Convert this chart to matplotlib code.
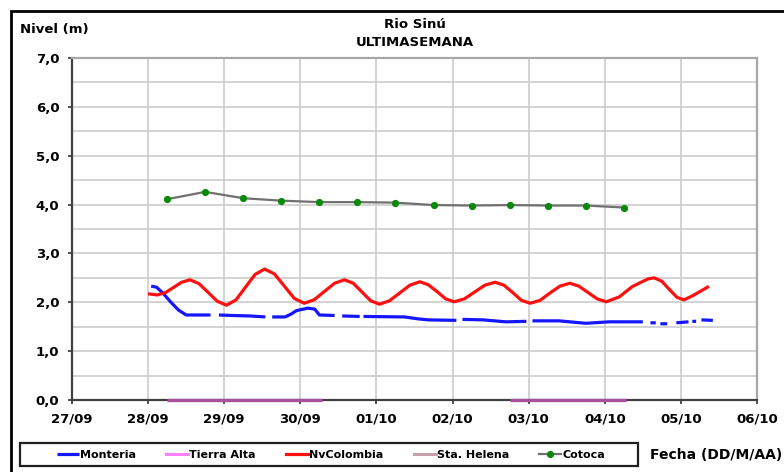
import numpy as np
import matplotlib
matplotlib.use("Agg")
import matplotlib.pyplot as plt
from matplotlib.patches import Rectangle
from matplotlib.lines import Line2D

# x = days since 27/09 00:00
date_labels = ["27/09", "28/09", "29/09", "30/09", "01/10", "02/10", "03/10", "04/10", "05/10", "06/10"]
nivel_ticks = [0, 1, 2, 3, 4, 5, 6, 7]
nivel_labels = ["0,0", "1,0", "2,0", "3,0", "4,0", "5,0", "6,0", "7,0"]

# Monteria (nan = missing reading)
monteria_t = [1.04, 1.11, 1.20, 1.30, 1.40, 1.50, 1.82, 1.87, 1.93, 2.10, 2.34, 2.54, 2.58, 2.63, 2.80,
              2.88, 2.95, 3.10, 3.19, 3.25, 3.45, 3.50, 3.55, 3.78, 3.80, 3.83, 4.37, 4.55, 4.68, 5.05,
              5.09, 5.13, 5.40, 5.70, 5.97, 6.01, 6.05, 6.40, 6.75, 7.06, 7.50, 7.55, 7.60, 7.67, 7.70,
              7.73, 7.82, 7.88, 7.94, 8.10, 8.12, 8.15, 8.20, 8.24, 8.27, 8.42]
monteria_v = [2.33, 2.31, 2.18, 2.00, 1.84, 1.74, 1.74, np.nan, 1.74, 1.73, 1.72, 1.70, np.nan, 1.70, 1.70,
              1.76, 1.83, 1.88, 1.86, 1.74, 1.73, np.nan, 1.72, 1.71, np.nan, 1.71, 1.70, 1.66, 1.64, 1.63,
              np.nan, 1.65, 1.64, 1.60, 1.61, np.nan, 1.62, 1.62, 1.57, 1.60, 1.60, np.nan, 1.58, 1.58, np.nan,
              1.56, 1.56, np.nan, 1.58, 1.60, np.nan, 1.61, 1.61, np.nan, 1.64, 1.63]

# NvColombia
nvcol_t = [1.02, 1.12, 1.23, 1.34, 1.44, 1.55, 1.67, 1.79, 1.91, 2.03, 2.155, 2.28, 2.405, 2.53,
           2.66, 2.79, 2.92, 3.05, 3.18, 3.315, 3.45, 3.58, 3.695, 3.81, 3.925, 4.04, 4.17, 4.305,
           4.44, 4.57, 4.68, 4.795, 4.91, 5.02, 5.155, 5.29, 5.425, 5.56, 5.675, 5.79, 5.905, 6.02,
           6.15, 6.28, 6.41, 6.54, 6.66, 6.78, 6.90, 7.02, 7.19, 7.36, 7.49, 7.57, 7.65, 7.75, 7.85,
           7.95, 8.04, 8.15, 8.25, 8.35]
nvcol_v = [2.17, 2.15, 2.20, 2.31, 2.41, 2.46, 2.38, 2.20, 2.02, 1.94, 2.05, 2.31, 2.57, 2.68,
           2.58, 2.33, 2.08, 1.98, 2.05, 2.22, 2.39, 2.46, 2.39, 2.21, 2.03, 1.96, 2.03, 2.19,
           2.35, 2.42, 2.36, 2.22, 2.07, 2.01, 2.07, 2.21, 2.35, 2.41, 2.35, 2.20, 2.04, 1.98,
           2.04, 2.19, 2.33, 2.39, 2.33, 2.20, 2.07, 2.01, 2.11, 2.32, 2.42, 2.48, 2.50, 2.43, 2.26,
           2.10, 2.05, 2.13, 2.22, 2.31]

# Tierra Alta (readings at 0)
talta_t = [1.25, 3.28, np.nan, 5.75, 7.28]
talta_v = [0.0, 0.0, np.nan, 0.0, 0.0]

# Sta. Helena (no readings)
shelena_t = []
shelena_v = []

# Cotoca
cotoca_t = [1.25, 1.75, 2.25, 2.75, 3.25, 3.75, 4.25, 4.75, 5.25, 5.75, 6.25, 6.75, 7.25]
cotoca_v = [4.11, 4.26, 4.13, 4.08, 4.05, 4.05, 4.04, 3.99, 3.98, 3.99, 3.98, 3.98, 3.94]

fig = plt.figure(figsize=(7.84, 4.72), dpi=100)
ax = fig.add_axes([72 / 784, 1 - 400 / 472, 685 / 784, 342 / 472])

l1, = ax.plot(monteria_t, monteria_v, color="#1515ff", lw=2.3, label="Monteria", zorder=4,
              solid_capstyle="butt")
# zero readings sit on the dark axis line, so they look purple there
ax.plot(talta_t, talta_v, color="#a8509c", lw=2.4, zorder=6, clip_on=False, solid_capstyle="butt")
l2 = Line2D([], [], color="#ff80ff", lw=2.2, label="Tierra Alta")
l3, = ax.plot(nvcol_t, nvcol_v, color="#ff1010", lw=2.3, label="NvColombia", zorder=4)
l4, = ax.plot(shelena_t, shelena_v, color="#c8a0a8", lw=2.2, label="Sta. Helena", zorder=4)
l5, = ax.plot(cotoca_t, cotoca_v, color="#707070", lw=1.6, marker="o", ms=4.2,
              mfc="#0a8a0a", mec="#0a8a0a", label="Cotoca", zorder=4)

ax.set_xlim(0, 9)
ax.set_ylim(0, 7)
ax.set_xticks(range(len(date_labels)))
ax.set_xticklabels(date_labels, fontsize=9.5, fontweight="bold")
ax.set_yticks(nivel_ticks)
ax.set_yticklabels(nivel_labels, fontsize=9.5, fontweight="bold")
ax.set_yticks(np.arange(0.5, 7, 1.0), minor=True)
ax.tick_params(axis="y", which="minor", length=0)
ax.tick_params(axis="both", which="major", direction="out", length=3, width=1.2,
               color="#303030", pad=6)

ax.grid(True, which="both", axis="y", color="#cccccc", lw=1.2, zorder=0)
ax.grid(True, which="major", axis="x", color="#cccccc", lw=1.2, zorder=0)
ax.set_axisbelow(True)

for s in ["left", "bottom"]:
    ax.spines[s].set_color("#404040")
    ax.spines[s].set_linewidth(1.6)
for s in ["top", "right"]:
    ax.spines[s].set_color("#a8a8a8")
    ax.spines[s].set_linewidth(1.6)

fig.text(415 / 784, 1 - 25 / 472, "Rio Sinú", ha="center", va="center", fontsize=9.5, fontweight="bold")
fig.text(415 / 784, 1 - 42 / 472, "ULTIMASEMANA", ha="center", va="center", fontsize=9.5, fontweight="bold")
fig.text(20 / 784, 1 - 30 / 472, "Nivel (m)", ha="left", va="center", fontsize=9.5, fontweight="bold")
fig.text(650 / 784, 1 - 455 / 472, "Fecha (DD/M/AA)", ha="left", va="center", fontsize=10, fontweight="bold")

leg = fig.legend(handles=[l1, l2, l3, l4, l5], ncol=5, loc="center",
                 bbox_to_anchor=(331 / 784, 1 - 455 / 472), bbox_transform=fig.transFigure,
                 frameon=False, prop={"size": 8, "weight": "bold"}, handlelength=2.0,
                 handletextpad=0.1, columnspacing=2.7, borderpad=0, borderaxespad=0)

# legend box
fig.patches.append(Rectangle((20 / 784, 1 - 466 / 472), 618 / 784, 23 / 472, transform=fig.transFigure,
                             fill=False, edgecolor="#202020", lw=1.6))

# outer chart border
fig.patches.append(Rectangle((11 / 784, -0.1), 1.2, 1.1 - 11 / 472, transform=fig.transFigure,
                             fill=False, edgecolor="black", lw=2, clip_on=False))

fig.savefig("out.png", dpi=100)
